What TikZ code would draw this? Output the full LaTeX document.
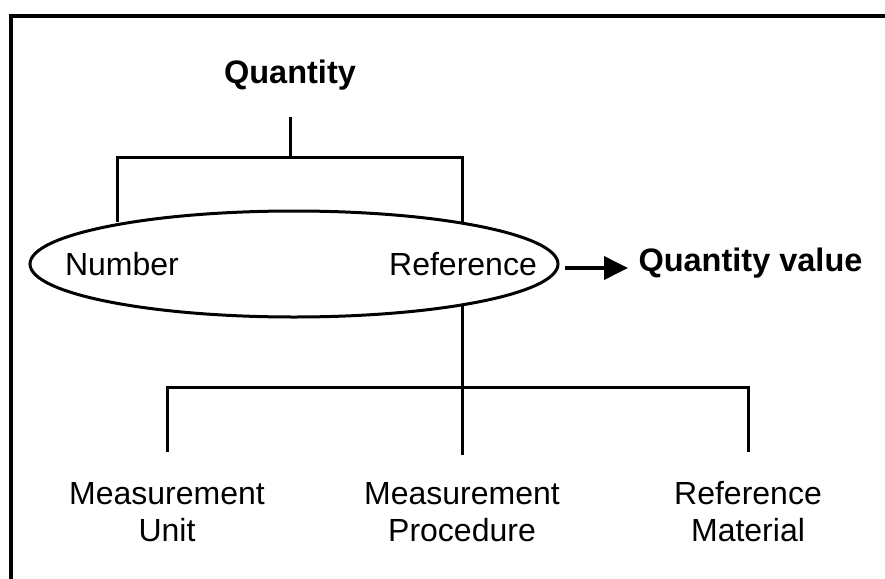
\documentclass[tikz,border=0pt]{standalone}
\usepackage{fontspec}
\setmainfont{Liberation Sans}
\usetikzlibrary{shapes.geometric,arrows.meta}
\begin{document}
\begin{tikzpicture}[x=1pt,y=-1pt,line width=3pt,
  txt/.style={inner sep=0pt,font=\fontsize{32}{37}\selectfont,align=center},
  btxt/.style={txt,font=\fontsize{32.5}{37}\selectfont\bfseries},
  conn/.style={line width=3pt}]
\useasboundingbox (0,0) rectangle (885,578);
\begin{scope}
\clip (0,0) rectangle (885,578);
\draw[line width=3.4pt] (11,16) rectangle (920,620);
\end{scope}
\node[btxt] (q) at (290,75) {Quantity};
\node[draw,ellipse,line width=3pt,minimum width=528pt,minimum height=106pt,inner sep=0pt] (ell) at (294,264) {};
\node[txt] (num) at (122,264) {Number};
\node[txt] (ref) at (463,264) {Reference};
\node[btxt,anchor=west] (qv) at (637,263) {Quantity value};
\node[txt] (mu) at (167,512) {Measurement\\Unit};
\node[txt] (mp) at (462,512) {Measurement\\Procedure};
\node[txt] (rm) at (748,512) {Reference\\Material};
\coordinate (qtop) at (290,117);
\coordinate (qbar) at (290,157);
\coordinate (lb) at (117,157);
\coordinate (rb) at (462,157);
\coordinate (le) at (117,222);
\coordinate (re) at (462,222);
\coordinate (rbot) at (462,305);
\coordinate (bar) at (462,387);
\coordinate (b1) at (167,387);
\coordinate (b3) at (748,387);
\coordinate (d1) at (167,452);
\coordinate (d2) at (462,455);
\coordinate (d3) at (748,452);
\coordinate (as) at (565,268);
\coordinate (ae) at (628,268);
\draw[conn] (qtop) -- (qbar);
\draw[conn] (le) -- (lb) -- (rb) -- (re);
\draw[conn] (rbot) -- (d2);
\draw[conn] (d1) -- (b1) -- (b3) -- (d3);
\draw[line width=3.8pt,-{Triangle[length=24pt,width=23pt]}] (as) -- (ae);
\end{tikzpicture}
\end{document}
